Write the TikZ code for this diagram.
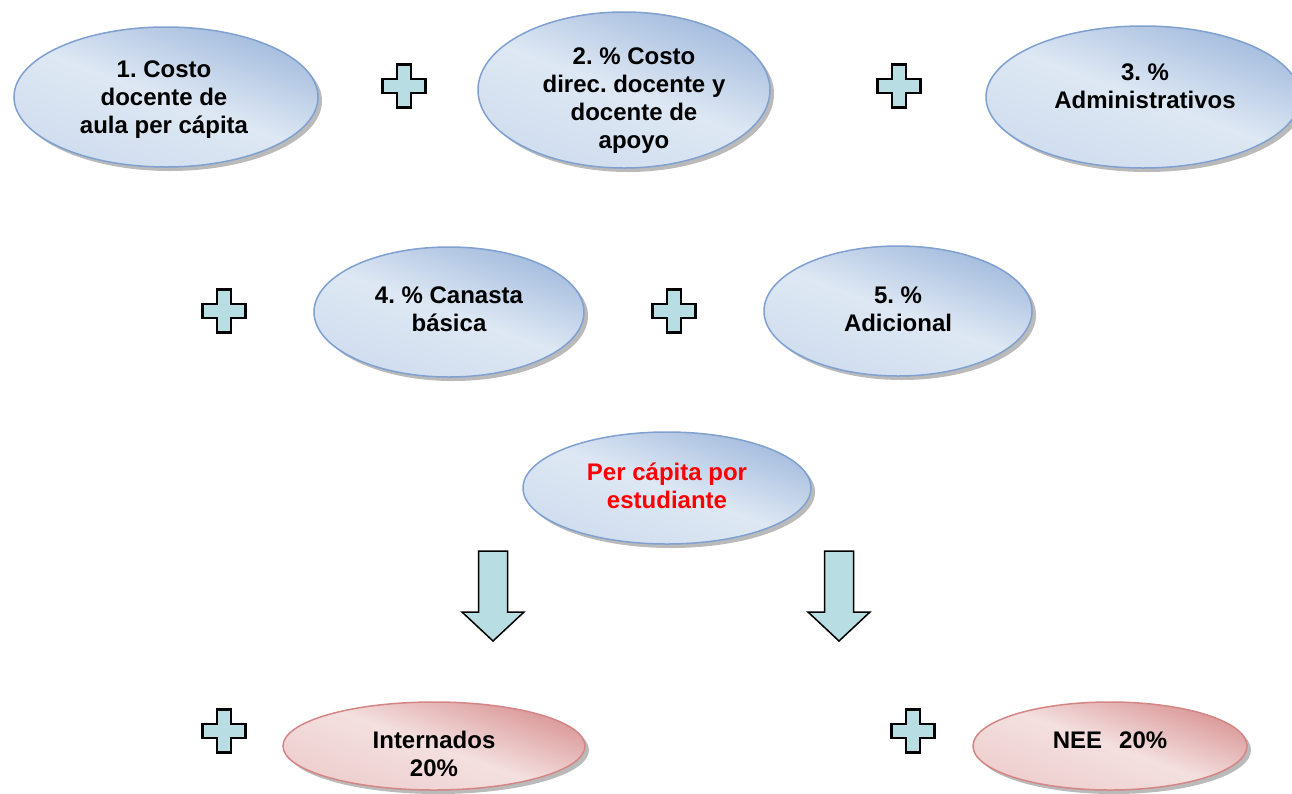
\documentclass[tikz,border=0pt]{standalone}
\usepackage{fontspec}
\setmainfont{Liberation Sans}
\usetikzlibrary{shapes.geometric,shadows}
\frenchspacing

\definecolor{bluelight}{RGB}{222,232,244}
\definecolor{bluedark}{RGB}{163,187,221}
\definecolor{blueedge}{RGB}{128,160,208}
\definecolor{redlight}{RGB}{244,224,224}
\definecolor{reddark}{RGB}{218,150,150}
\definecolor{rededge}{RGB}{212,134,134}
\definecolor{aqua}{RGB}{184,222,228}

\tikzset{
  bubble/.style={ellipse, draw=blueedge, line width=1.5pt, inner sep=0pt,
    top color=bluedark, bottom color=bluelight!75!bluedark,
    middle color=bluelight, shading angle=-20,
    drop shadow={shadow xshift=4pt, shadow yshift=-4pt, opacity=.45, fill=black!60}},
  redbubble/.style={bubble, draw=rededge,
    top color=reddark, bottom color=redlight!75!reddark,
    middle color=redlight, shading angle=-20},
  txt/.style={align=center, font=\fontsize{24}{28}\selectfont\bfseries},
  plusbox/.style={draw=black, line width=2.5pt, fill=aqua, line join=miter},
  arrowbox/.style={draw=black, line width=1.5pt, fill=aqua, line join=miter},
  plussign/.pic={
    \draw[plusbox] (-7,-21.5) -- (7,-21.5) -- (7,-7) -- (21.5,-7) -- (21.5,7)
      -- (7,7) -- (7,21.5) -- (-7,21.5) -- (-7,7) -- (-21.5,7) -- (-21.5,-7)
      -- (-7,-7) -- cycle;
  },
  downarrow/.pic={
    \draw[arrowbox] (-14.5,0) -- (14.5,0) -- (14.5,61) -- (31,61) -- (0,90)
      -- (-31,61) -- (-14.5,61) -- cycle;
  }
}

\begin{document}
\begin{tikzpicture}[x=1pt, y=-1pt]
  \useasboundingbox (0,0) rectangle (1292,793);

  % first row
  \node[bubble, minimum width=304, minimum height=140] (e1) at (166,97) {};
  \node[bubble, minimum width=292, minimum height=156] (e2) at (624,90) {};
  \node[bubble, minimum width=314, minimum height=142] (e3) at (1143,97) {};
  \node[txt] (t1) at (164,100) {1. Costo\\docente de\\aula per cápita};
  \node[txt] (t2) at (634,101) {2. \% Costo\\direc. docente y\\docente de\\apoyo};
  \node[txt] (t3) at (1145,86) {3. \%\\Administrativos};
  \pic (p1) at (404,86) {plussign};
  \pic (p2) at (899,86) {plussign};

  % second row
  \node[bubble, minimum width=270, minimum height=130] (e4) at (449,312) {};
  \node[bubble, minimum width=268, minimum height=130] (e5) at (898,311) {};
  \node[txt] (t4) at (449,309) {4. \% Canasta\\básica};
  \node[txt] (t5) at (898,309) {5. \%\\Adicional};
  \pic (p3) at (224,311) {plussign};
  \pic (p4) at (674,311) {plussign};

  % result
  \node[bubble, minimum width=288, minimum height=112] (e6) at (667,488) {};
  \node[txt, text=red] (t6) at (667,486) {Per cápita por\\estudiante};
  \pic (a1) at (493,551) {downarrow};
  \pic (a2) at (839,551) {downarrow};

  % extras
  \node[redbubble, minimum width=302, minimum height=88] (e7) at (434,746) {};
  \node[redbubble, minimum width=274, minimum height=88] (e8) at (1110,746) {};
  \node[txt] (t7) at (434,754) {Internados\\20\%};
  \node[txt] (t8) at (1110,740) {NEE\hspace{17pt}20\%};
  \pic (p5) at (224,731) {plussign};
  \pic (p6) at (913,731) {plussign};
\end{tikzpicture}
\end{document}
